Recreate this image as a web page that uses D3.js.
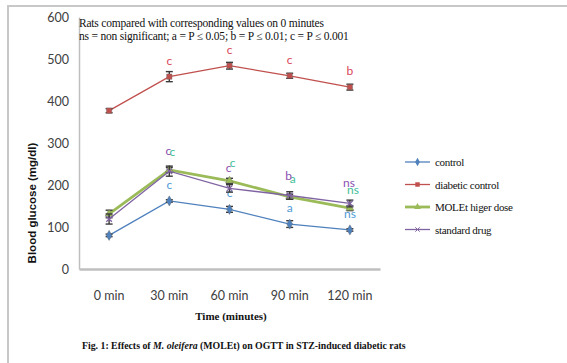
<!DOCTYPE html>
<html><head><meta charset="utf-8">
<script src="https://cdn.jsdelivr.net/npm/d3@7"></script>
<style>body{margin:0;background:#fff}svg{display:block}</style>
</head><body>
<script>
const categories = ["0 min","30 min","60 min","90 min","120 min"];
const seriesNames = ["control","diabetic control","MOLEt higer dose","standard drug"];
const control      = [80, 162, 142, 107, 93];
const diabetic     = [377, 458, 484, 460, 433];
const moletHigh    = [131, 236, 210, 172, 145];
const standardDrug = [119, 233, 192, 175, 156];
const controlErr   = [3, 3, 7, 8, 3];
const diabeticErr  = [5, 12, 8, 6, 7];
const moletErr     = [9, 6, 6, 6, 6];
const standardErr  = [12, 12, 9, 9, 8];
const controlSig   = ["", "c", "c", "a", "ns"];
const diabeticSig  = ["", "c", "c", "c", "b"];
const moletSig     = ["", "c", "c", "a", "ns"];
const standardSig  = ["", "c", "c", "b", "ns"];
const yTicks = [0,100,200,300,400,500,600];

const W=567,H=363;
const svg=d3.select("body").append("svg").attr("width",W).attr("height",H);
svg.append("path").attr("d","M8,363 V6 H567").attr("fill","none").attr("stroke","#c8c8c8").attr("stroke-width",2);

const x=d3.scaleBand().domain(categories).range([79,380]);
const y=d3.scaleLinear().domain([0,600]).range([269,17]);
const cx=c=>x(c)+x.bandwidth()/2;

const yAx=svg.append("g").attr("transform","translate(79,0)")
  .call(d3.axisLeft(y).tickValues(yTicks).tickSize(0).tickPadding(10));
yAx.select(".domain").attr("stroke","#bfbfbf").attr("stroke-width",1.5);
yAx.selectAll("text").attr("font-family","Lato, 'Open Sans', sans-serif").attr("font-size",12.5).attr("fill","#404040");
const xAx=svg.append("g").attr("transform","translate(0,269)")
  .call(d3.axisBottom(x).tickSize(0).tickPadding(22));
xAx.select(".domain").attr("stroke","#bfbfbf").attr("stroke-width",2.5);
xAx.selectAll("text").attr("font-family","Lato, 'Open Sans', sans-serif").attr("font-size",12.5).attr("fill","#404040");

svg.append("text").attr("transform","translate(36,203) rotate(-90)").attr("text-anchor","middle")
  .attr("font-family","'Liberation Sans', Arial, sans-serif").attr("font-weight","bold").attr("font-size",11.5).attr("fill","#111")
  .text("Blood glucose (mg/dl)");
svg.append("text").attr("x",231).attr("y",320).attr("text-anchor","middle")
  .attr("font-family","'Liberation Serif', serif").attr("font-weight","bold").attr("font-size",11).attr("fill","#111")
  .text("Time (minutes)");
const cap=svg.append("text").attr("x",82).attr("y",349)
  .attr("font-family","'Liberation Serif', serif").attr("font-weight","bold").attr("font-size",9.8).attr("fill","#111");
cap.append("tspan").text("Fig. 1: Effects of ");
cap.append("tspan").attr("font-style","italic").text("M. oleifera");
cap.append("tspan").text(" (MOLEt) on OGTT in STZ-induced diabetic rats");
svg.append("text").attr("x",79).attr("y",27).attr("font-family","'Liberation Serif', serif").attr("font-size",11.5).attr("fill","#111")
  .attr("letter-spacing",-0.2).text("Rats compared with corresponding values on 0 minutes");
svg.append("text").attr("x",79).attr("y",40).attr("font-family","'Liberation Serif', serif").attr("font-size",11.5).attr("fill","#111")
  .attr("letter-spacing",-0.2).text("ns = non significant; a = P \u2264 0.05; b = P \u2264 0.01; c = P \u2264 0.001");

const series=[
 {name:seriesNames[0],vals:control,err:controlErr,sig:controlSig,color:"#4f81bd",lab:"#4f9ad6",w:1.3,marker:"diamond",dx:0,dy:0},
 {name:seriesNames[1],vals:diabetic,err:diabeticErr,sig:diabeticSig,color:"#c0504d",lab:"#d9465a",w:1.3,marker:"square",dx:0,dy:0},
 {name:seriesNames[2],vals:moletHigh,err:moletErr,sig:moletSig,color:"#9bbb59",lab:"#3fc09a",w:2.8,marker:"triangle",dx:3,dy:-2},
 {name:seriesNames[3],vals:standardDrug,err:standardErr,sig:standardSig,color:"#8064a2",lab:"#8a4fb0",w:1.3,marker:"x",dx:-1,dy:-4},
];
const line=d3.line().x((d,i)=>cx(categories[i])).y(d=>y(d));
const sym={diamond:d3.symbolDiamond,square:d3.symbolSquare,triangle:d3.symbolTriangle};

series.forEach(s=>{
  const g=svg.append("g");
  g.append("path").datum(s.vals).attr("d",line).attr("fill","none").attr("stroke",s.color).attr("stroke-width",s.w);
  s.vals.forEach((v,i)=>{
    const px=cx(categories[i]),e=s.err[i];
    const eg=g.append("g").attr("stroke","#3a3a3a").attr("stroke-width",1.4);
    eg.append("line").attr("x1",px).attr("x2",px).attr("y1",y(v+e)).attr("y2",y(v-e));
    eg.append("line").attr("x1",px-3.5).attr("x2",px+3.5).attr("y1",y(v+e)).attr("y2",y(v+e));
    eg.append("line").attr("x1",px-3.5).attr("x2",px+3.5).attr("y1",y(v-e)).attr("y2",y(v-e));
  });
  s.vals.forEach((v,i)=>{
    const px=cx(categories[i]);
    if(s.marker==="x"){
      g.append("path").attr("d",d3.symbol(d3.symbolX,22)()).attr("transform",`translate(${px},${y(v)})`)
        .attr("stroke",s.color).attr("stroke-width",1.3).attr("fill","none");
    } else {
      g.append("path").attr("d",d3.symbol(sym[s.marker],s.marker==="diamond"?30:28)()).attr("transform",`translate(${px},${y(v)})`)
        .attr("fill",s.color).attr("stroke","#666").attr("stroke-width",0.4);
    }
  });
  s.sig.forEach((t,i)=>{
    if(!t) return;
    const v=s.vals[i];
    svg.append("text").attr("x",cx(categories[i])+s.dx).attr("y",y(v)-12+s.dy).attr("text-anchor","middle")
      .attr("font-family","Lato, 'Open Sans', sans-serif").attr("font-size",12).attr("fill",s.lab).text(t);
  });
});

const leg=svg.append("g");
series.forEach((s,i)=>{
  const ly=162+i*22.5;
  leg.append("line").attr("x1",405).attr("x2",430).attr("y1",ly).attr("y2",ly).attr("stroke",s.color).attr("stroke-width",s.w);
  if(s.marker==="x"){
    leg.append("path").attr("d",d3.symbol(d3.symbolX,14)()).attr("transform",`translate(417.5,${ly})`).attr("stroke",s.color).attr("fill","none");
  } else {
    leg.append("path").attr("d",d3.symbol(sym[s.marker],20)()).attr("transform",`translate(417.5,${ly})`).attr("fill",s.color);
  }
  leg.append("text").attr("x",435).attr("y",ly+4).attr("font-family","'Liberation Serif', serif").attr("font-size",11)
    .attr("letter-spacing",-0.3).attr("fill","#111").text(s.name);
});
</script>
</body></html>
